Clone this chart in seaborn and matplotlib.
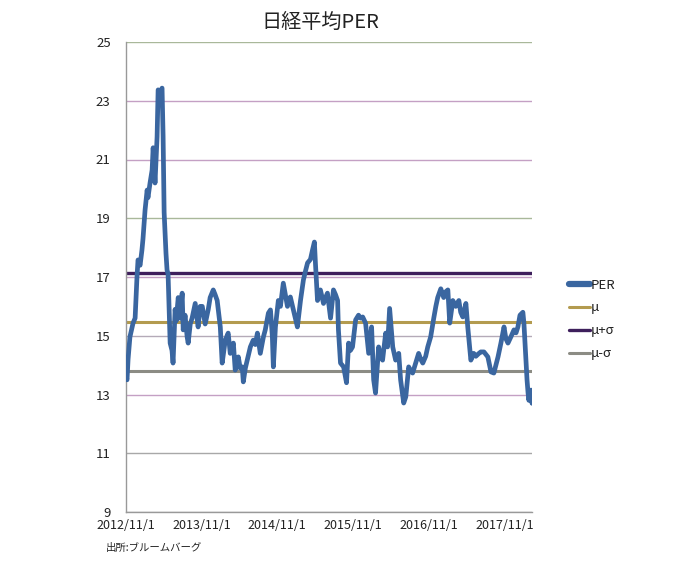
import matplotlib
matplotlib.use("Agg")
import matplotlib.pyplot as plt
import matplotlib.dates as mdates
import seaborn as sns
import pandas as pd
from matplotlib.lines import Line2D

dates = [
    "2012-11-01","2012-11-06","2012-11-11","2012-11-20","2012-12-05","2012-12-15","2012-12-24","2012-12-29",
    "2013-01-08","2013-01-17","2013-01-22","2013-02-01","2013-02-11","2013-02-15","2013-02-25","2013-03-07",
    "2013-03-12","2013-03-21","2013-03-31","2013-04-05","2013-04-14","2013-04-24","2013-04-29","2013-05-04",
    "2013-05-13","2013-05-18","2013-05-23","2013-06-02","2013-06-11","2013-06-16","2013-06-26","2013-07-01",
    "2013-07-11","2013-07-20","2013-07-30","2013-08-04","2013-08-13","2013-08-23","2013-08-28","2013-09-07",
    "2013-09-16","2013-10-01","2013-10-10","2013-10-15","2013-10-25","2013-11-04","2013-11-18","2013-12-03",
    "2013-12-12","2013-12-27","2014-01-05","2014-01-15","2014-01-30","2014-02-08","2014-02-23","2014-03-09",
    "2014-03-19","2014-04-03","2014-04-12","2014-04-27","2014-05-06","2014-05-16","2014-05-21","2014-05-31",
    "2014-06-09","2014-06-24","2014-07-08","2014-07-18","2014-07-28","2014-08-11","2014-08-26","2014-09-04",
    "2014-09-19","2014-09-29","2014-10-08","2014-10-13","2014-10-23","2014-11-06","2014-11-16","2014-11-30",
    "2014-12-10","2014-12-20","2015-01-03","2015-01-18","2015-01-27","2015-02-06","2015-02-21","2015-03-07",
    "2015-03-17","2015-03-27","2015-04-10","2015-04-20","2015-04-29","2015-05-04","2015-05-14","2015-05-28",
    "2015-06-12","2015-06-22","2015-07-01","2015-07-16","2015-07-30","2015-08-09","2015-08-19","2015-08-23",
    "2015-09-02","2015-09-17","2015-10-01","2015-10-11","2015-10-20","2015-10-30","2015-11-14","2015-11-28",
    "2015-12-08","2015-12-18","2016-01-01","2016-01-16","2016-01-30","2016-02-09","2016-02-18","2016-03-04",
    "2016-03-14","2016-03-23","2016-04-07","2016-04-16","2016-04-26","2016-05-11","2016-05-25","2016-06-09",
    "2016-06-18","2016-07-03","2016-07-13","2016-07-27","2016-08-06","2016-08-15","2016-08-30","2016-09-13",
    "2016-09-23","2016-10-03","2016-10-17","2016-10-27","2016-11-10","2016-11-25","2016-12-05","2016-12-14",
    "2016-12-29","2017-01-12","2017-01-22","2017-02-01","2017-02-10","2017-02-25","2017-03-11","2017-03-26",
    "2017-04-04","2017-04-14","2017-04-29","2017-05-08","2017-05-23","2017-06-06","2017-06-16","2017-07-01",
    "2017-07-10","2017-07-25","2017-08-13","2017-08-28","2017-09-11","2017-09-21","2017-10-01","2017-10-15",
    "2017-10-30","2017-11-08","2017-11-18","2017-12-02","2017-12-17","2017-12-27","2018-01-05","2018-01-15",
    "2018-01-29","2018-02-03","2018-02-13","2018-02-18","2018-02-23","2018-02-27","2018-03-04","2018-03-09",
    "2018-03-14",
]
per = [
    13.6,13.5,14.2,14.96,15.43,15.6,17.0,17.58,
    17.4,17.92,18.3,19.28,19.96,19.7,20.2,20.64,
    21.4,20.2,21.77,23.37,23.3,23.43,21.8,19.2,
    17.8,17.24,17.1,14.75,14.5,14.07,15.9,15.5,
    16.3,15.6,16.45,15.2,15.7,14.96,14.75,15.4,
    15.6,16.1,15.6,15.3,16.0,16.0,15.4,15.9,
    16.3,16.56,16.4,16.2,15.3,14.07,14.85,15.09,
    14.4,14.75,13.83,14.28,13.9,13.94,13.43,13.9,
    14.17,14.62,14.85,14.7,15.09,14.4,14.96,15.2,
    15.77,15.88,15.0,13.94,15.3,16.2,16.0,16.79,
    16.4,16.0,16.32,15.88,15.6,15.3,16.2,16.9,
    17.2,17.48,17.6,17.92,18.19,17.48,16.2,16.56,
    16.1,16.3,16.45,15.6,16.56,16.4,16.2,15.2,
    14.07,13.94,13.4,14.75,14.5,14.62,15.54,15.7,
    15.6,15.64,15.43,14.4,15.3,13.5,13.05,14.62,
    14.3,14.17,15.09,14.62,15.93,14.62,14.17,14.4,
    13.5,12.71,12.92,13.94,13.8,13.73,14.07,14.4,
    14.2,14.07,14.3,14.62,14.96,15.6,16.0,16.3,
    16.6,16.3,16.5,16.56,15.43,16.2,16.0,16.2,
    15.8,15.64,16.1,15.3,14.17,14.4,14.3,14.4,
    14.45,14.45,14.28,13.77,13.73,14.0,14.28,14.75,
    15.3,14.9,14.75,14.96,15.2,15.1,15.3,15.7,
    15.8,15.43,14.17,13.5,13.05,12.8,13.1,13.15,
    12.7,
]
mu = 15.47
mu_plus = 17.14
mu_minus = 13.80

title = "日経平均PER"
source = "出所:ブルームバーグ"
legend_labels = ["PER", "μ", "μ+σ", "μ-σ"]
x_ticks = ["2012-11-01","2013-11-01","2014-11-01","2015-11-01","2016-11-01","2017-11-01"]
x_tick_labels = ["2012/11/1","2013/11/1","2014/11/1","2015/11/1","2016/11/1","2017/11/1"]
y_ticks = [9, 11, 13, 15, 17, 19, 21, 23, 25]

sns.set_style("white")
plt.rcParams["font.family"] = ["Noto Sans CJK JP", "DejaVu Sans"]

df = pd.DataFrame({"date": pd.to_datetime(dates), "PER": per})

fig = plt.figure(figsize=(7.0, 5.64), dpi=100)
ax = fig.add_axes([126/700, 1-512/564, (532-126)/700, (512-42)/564])

grid_colors = ["#a8a8a8", "#a8a8a8", "#c4a0c4", "#b4aab8", "#c4a0c4", "#a9b89a", "#c4a0c4", "#c4a0c4", "#a9b89a"]
for yv, gc in zip(y_ticks, grid_colors):
    ax.axhline(yv, color=gc, lw=1.0, zorder=1)

c_per = "#3a66a0"
c_mu = "#b39b4f"
c_plus = "#3e1f5c"
c_minus = "#8c8c84"

ax.axhline(mu, color=c_mu, lw=2.2, zorder=2)
ax.axhline(mu_plus, color=c_plus, lw=2.4, zorder=2)
ax.axhline(mu_minus, color=c_minus, lw=2.2, zorder=2)
sns.lineplot(data=df, x="date", y="PER", ax=ax, color=c_per, lw=3.4, zorder=3)

ax.set_xlim(pd.Timestamp("2012-11-01"), pd.Timestamp("2018-03-14"))
ax.set_ylim(9, 25)
ax.set_yticks(y_ticks)
ax.set_yticklabels([str(v) for v in y_ticks], fontsize=9.5, color="#222222")
ax.set_xticks(pd.to_datetime(x_ticks))
ax.set_xticklabels(x_tick_labels, fontsize=9, color="#222222")
ax.set_xlabel("")
ax.set_ylabel("")
ax.tick_params(axis="y", direction="out", length=5, color="#888888", pad=6)
ax.tick_params(axis="x", direction="inout", length=6, color="#888888", pad=2)
for s in ["top", "right"]:
    ax.spines[s].set_visible(False)
for s in ["left", "bottom"]:
    ax.spines[s].set_color("#999999")
    ax.spines[s].set_linewidth(1.0)
ax.set_facecolor("white")

fig.text(320/700, 1-22/564, title, ha="center", va="center", fontsize=14.5, color="#222222")
fig.text(106/700, 1-548/564, source, ha="left", va="center", fontsize=7.5, color="#222222")

handles = [
    Line2D([], [], color=c_per, lw=4.5),
    Line2D([], [], color=c_mu, lw=2.2),
    Line2D([], [], color=c_plus, lw=2.4),
    Line2D([], [], color=c_minus, lw=2.2),
]
fig.legend(handles, legend_labels, loc="upper left", bbox_to_anchor=(562/700, 1-272/564),
           frameon=False, fontsize=9.5, handlelength=1.6, handletextpad=0.1,
           labelspacing=0.75, borderpad=0, labelcolor="#222222")

fig.savefig("out.png", dpi=100, facecolor="white")
